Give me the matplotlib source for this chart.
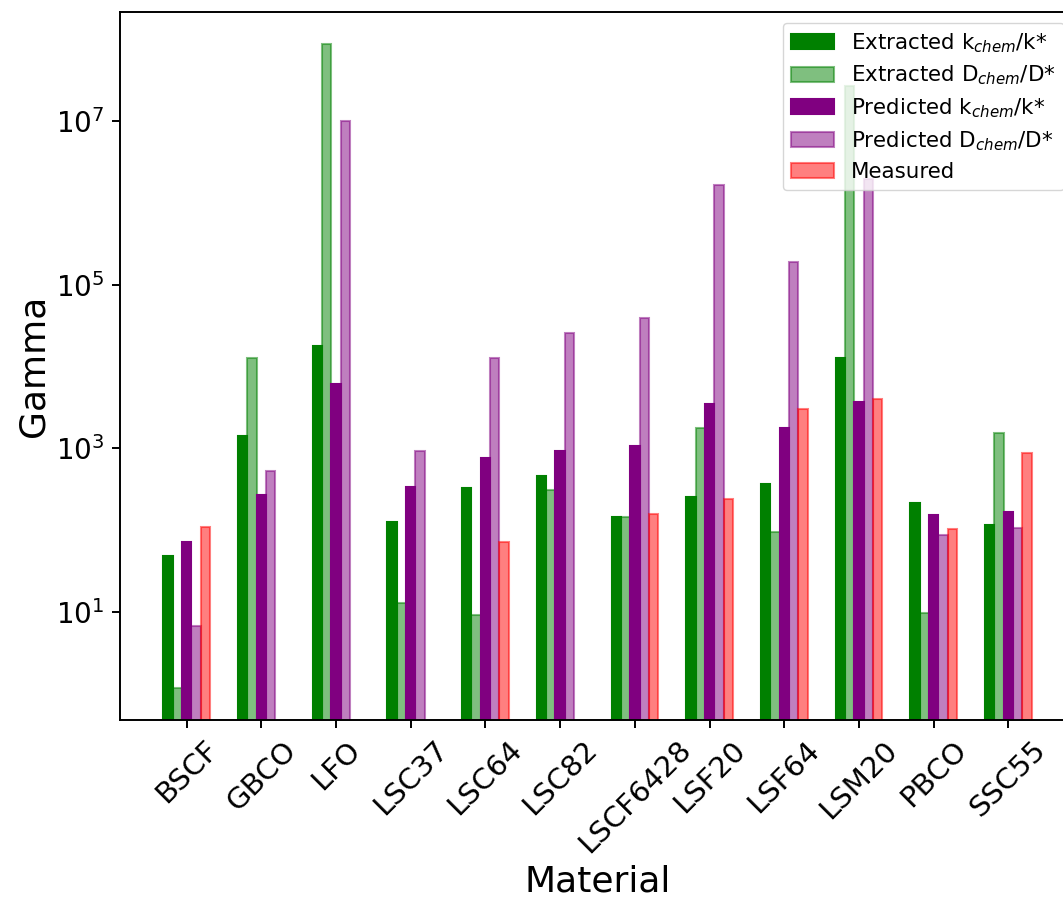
import numpy as np
import matplotlib
matplotlib.use("Agg")
import matplotlib.pyplot as plt
from matplotlib.ticker import FixedLocator, NullLocator, LogFormatterSciNotation

materials = ["BSCF", "GBCO", "LFO", "LSC37", "LSC64", "LSC82",
             "LSCF6428", "LSF20", "LSF64", "LSM20", "PBCO", "SSC55"]

extracted_k = [48, 1400, 17700, 125, 329, 460, 145, 251, 361, 12500, 215, 117]
extracted_D = [1.17, 12600, 8.6e7, 12.9, 9.1, 308, 143, 1750, 95, 2.7e7, 9.6, 1540]
predicted_k = [71, 270, 6180, 335, 757, 930, 1060, 3450, 1760, 3650, 152, 166]
predicted_D = [6.8, 525, 1.0e7, 920, 12700, 25400, 38800, 1.63e6, 1.87e5, 1.97e6, 86, 106]
measured = [110, np.nan, np.nan, np.nan, 71.4, np.nan, 158, 239, 3060, 3950, 102, 863]

series = [
    ("Extracted k$_{chem}$/k*", extracted_k, "green", 1.0),
    ("Extracted D$_{chem}$/D*", extracted_D, "green", 0.5),
    ("Predicted k$_{chem}$/k*", predicted_k, "purple", 1.0),
    ("Predicted D$_{chem}$/D*", predicted_D, "purple", 0.5),
    ("Measured", measured, "red", 0.5),
]

W, H, DPI = 1063, 917, 100
fig = plt.figure(figsize=(W / DPI, H / DPI), dpi=DPI)
ax = fig.add_axes([120 / W, (H - 720) / H, 955 / W, 708 / H])

x = np.arange(len(materials))
width = 0.125
for i, (label, vals, color, alpha) in enumerate(series):
    ax.bar(x + (i - 2) * width, vals, width, label=label, color=color,
           edgecolor=color, alpha=alpha, linewidth=1.5)

ax.set_yscale("log")
ax.set_ylim(10 ** -0.32, 10 ** 8.33)
ax.yaxis.set_major_locator(FixedLocator([1e1, 1e3, 1e5, 1e7]))
ax.yaxis.set_major_formatter(LogFormatterSciNotation())
ax.yaxis.set_minor_locator(NullLocator())

ax.set_xticks(x)
ax.set_xticklabels(materials, rotation=45, fontsize=21)
ax.tick_params(axis="y", labelsize=20)
ax.tick_params(length=5.8, width=1.4, pad=5.5)
for sp in ax.spines.values():
    sp.set_linewidth(1.4)

ax.set_xlabel("Material", fontsize=26)
ax.set_ylabel("Gamma", fontsize=26)

ax.legend(loc="upper right", fontsize=15.4, labelspacing=0.42)

fig.savefig("out.png", dpi=DPI)
